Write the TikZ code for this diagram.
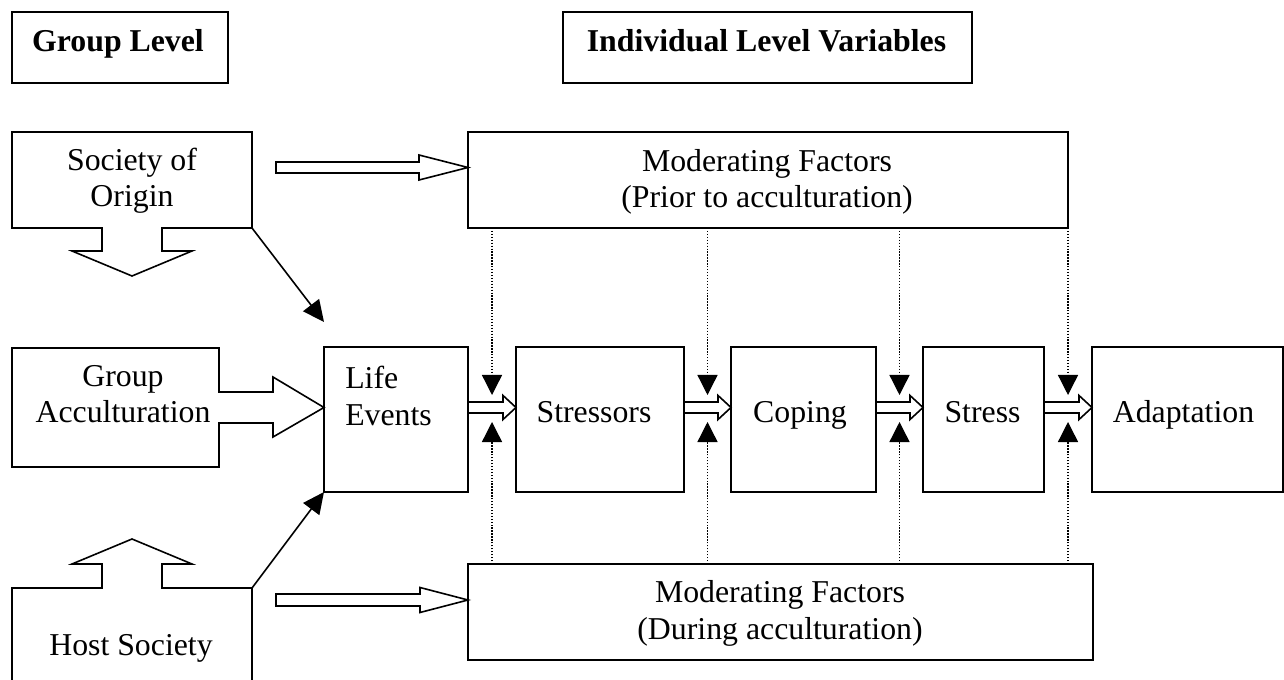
\documentclass[tikz,border=0pt]{standalone}
\usepackage{fontspec}
\setmainfont{Liberation Serif}
\usetikzlibrary{arrows.meta, calc, positioning}

\tikzset{
  boxline/.style={draw=black, line width=1.2pt, line join=miter},
  box/.style={boxline, rectangle, inner sep=0pt, outer sep=0pt},
  txt/.style={font=\fontsize{23.85}{27.4}\selectfont, inner sep=0pt, align=center},
  headtxt/.style={txt, font=\fontsize{23.85}{27.4}\selectfont\bfseries},
  dotarrow/.style={line width=1pt, dash pattern=on 1pt off 1.2pt, -{Triangle[length=15pt,width=15pt]}},
  diagarrow/.style={line width=1.2pt, -{Triangle[length=16pt,width=15pt]}}
}

% hollow block arrow: from, to, y, stem half, head half, head length
\newcommand{\hollowarrow}[6]{%
  \coordinate (ha-s) at (#1 |- 0,#3);
  \coordinate (ha-e) at (#2 |- 0,#3);
  \draw[boxline] ($(ha-s)+(0,-#4)$) -- ($(ha-e)+(-#6,-#4)$) -- ($(ha-e)+(-#6,-#5)$)
    -- (ha-e) -- ($(ha-e)+(-#6,#5)$) -- ($(ha-e)+(-#6,#4)$) -- ($(ha-s)+(0,#4)$) -- cycle;}

\begin{document}
\begin{tikzpicture}[x=0.75pt, y=-0.75pt]
    \useasboundingbox (0,0) rectangle (1284,680);
    \fill[white] (0,0) rectangle (1284,680);

    % Titoli
    \node[box, minimum width=162pt, minimum height=53.25pt] (grouplvl) at (120,47.5) {};
    \node[headtxt, anchor=base] (grouplvl-txt) at (118,52) {Group Level};
    \node[box, minimum width=306.75pt, minimum height=53.25pt] (indiv) at (767.5,47.5) {};
    \node[headtxt, anchor=base] (indiv-txt) at (766.5,52) {Individual Level Variables};

    % Livello di gruppo
    \draw[boxline] (12,132) -- (252,132) -- (252,228) -- (162,228) -- (162,251) -- (192,251)
        -- (132,276) -- (72,251) -- (102,251) -- (102,228) -- (12,228) -- cycle;
    \coordinate (origin-c) at (252,228);
    \node[txt] (origin-txt) at (132,180.7) {Society of\\Origin};

    \draw[boxline] (12,348) -- (219,348) -- (219,392) -- (273,392) -- (273,377) -- (324,407.5)
        -- (273,437) -- (273,423) -- (219,423) -- (219,467) -- (12,467) -- cycle;
    \node[txt] (accult-txt) at (123,394.3) {Group\\Acculturation};

    \draw[boxline] (12,680) -- (12,588) -- (102,588) -- (102,564) -- (72,564) -- (132,539)
        -- (192,564) -- (162,564) -- (162,588) -- (252,588) -- (252,680);
    \coordinate (host-c) at (252,588);
    \node[txt, anchor=base] (host-txt) at (131,655) {Host Society};

    % Fattori moderanti
    \node[box, minimum width=450pt, minimum height=72pt] (prior) at (768,180) {};
    \node[txt] (prior-txt) at (767,182) {Moderating Factors\\(Prior to acculturation)};
    \node[box, minimum width=468.75pt, minimum height=72pt] (during) at (780.5,612) {};
    \node[txt] (during-txt) at (780,613.6) {Moderating Factors\\(During acculturation)};

    % Variabili individuali
    \node[box, minimum width=108pt, minimum height=108.75pt] (life) at (396,419.5) {};
    \node[txt, align=left, anchor=west] (life-txt) at (345,395.7) {Life\\Events};
    \node[box, minimum width=126pt, minimum height=108.75pt] (stressors) at (600,419.5) {};
    \node[txt, anchor=base] (stressors-txt) at (594,423) {Stressors};
    \node[box, minimum width=108.75pt, minimum height=108.75pt] (coping) at (803.5,419.5) {};
    \node[txt, anchor=base] (coping-txt) at (800,423) {Coping};
    \node[box, minimum width=90.75pt, minimum height=108.75pt] (stress) at (983.5,419.5) {};
    \node[txt, anchor=base] (stress-txt) at (982.5,423) {Stress};
    \node[box, minimum width=143.25pt, minimum height=108.75pt] (adapt) at (1187.5,419.5) {};
    \node[txt, anchor=base] (adapt-txt) at (1183.5,423) {Adaptation};

    % Frecce
    \coordinate (origin-a) at (276,167.5);
    \coordinate (host-a) at (276,600);
    \hollowarrow{origin-a}{prior.west}{167.5}{5.5}{12.5}{49}
    \hollowarrow{host-a}{during.west}{600}{6}{12.5}{48}
    \draw[diagarrow] (origin-c) -- ($(life.north west)+(0,-25)$);
    \draw[diagarrow] (host-c) -- (life.south west);

    \foreach \a/\b in {life/stressors, stressors/coping, coping/stress, stress/adapt}{
        \hollowarrow{\a.east}{\b.west}{407.5}{5.5}{12}{13}
        \coordinate (gap) at ($(\a.east)!0.5!(\b.west)$);
        \draw[dotarrow] (gap |- prior.south) -- (gap |- 0,395);
        \draw[dotarrow] (gap |- during.north) -- (gap |- 0,422);
    }
\end{tikzpicture}
\end{document}
